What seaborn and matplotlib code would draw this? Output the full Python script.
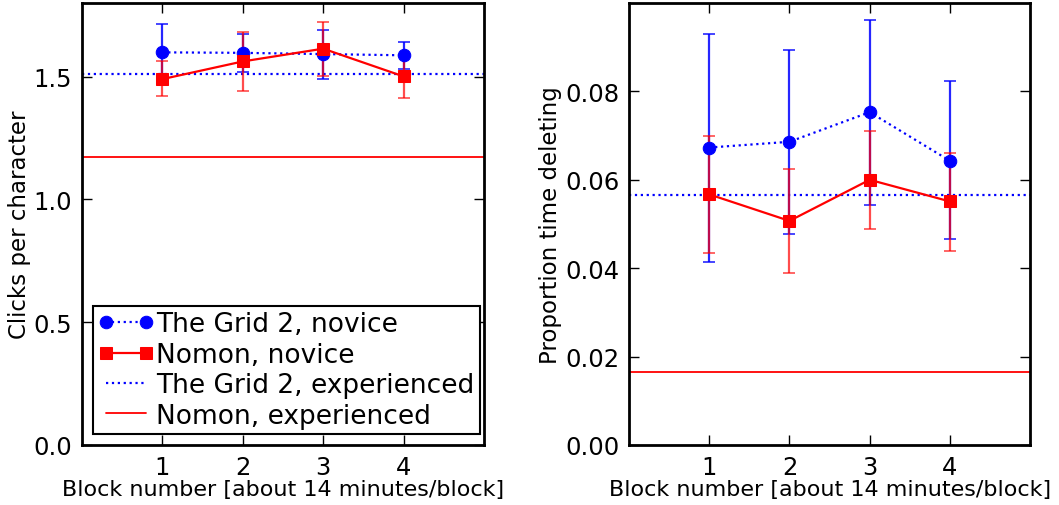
import matplotlib
matplotlib.use("Agg")
import matplotlib.pyplot as plt
import seaborn as sns
import pandas as pd

blocks = [1, 2, 3, 4]

# Left panel: clicks per character
grid_clicks = [1.599, 1.597, 1.592, 1.587]
grid_clicks_lo = [1.483, 1.521, 1.490, 1.532]
grid_clicks_hi = [1.715, 1.672, 1.692, 1.641]
nomon_clicks = [1.490, 1.562, 1.614, 1.501]
nomon_clicks_lo = [1.423, 1.440, 1.501, 1.413]
nomon_clicks_hi = [1.562, 1.682, 1.724, 1.589]
grid_exp_clicks = 1.512
nomon_exp_clicks = 1.174

# Right panel: proportion of time deleting
grid_del = [0.0673, 0.0686, 0.0753, 0.0643]
grid_del_lo = [0.0415, 0.0478, 0.0544, 0.0466]
grid_del_hi = [0.0930, 0.0893, 0.0961, 0.0823]
nomon_del = [0.0567, 0.0507, 0.0600, 0.0551]
nomon_del_lo = [0.0435, 0.0390, 0.0489, 0.0438]
nomon_del_hi = [0.0700, 0.0624, 0.0710, 0.0661]
grid_exp_del = 0.0565
nomon_exp_del = 0.0165

labels = ["The Grid 2, novice", "Nomon, novice",
          "The Grid 2, experienced", "Nomon, experienced"]
left_yticks = [0.0, 0.5, 1.0, 1.5]
left_yticklabels = ["0.0", "0.5", "1.0", "1.5"]
right_yticks = [0.00, 0.02, 0.04, 0.06, 0.08]
right_yticklabels = ["0.00", "0.02", "0.04", "0.06", "0.08"]
xlabel = "Block number [about 14 minutes/block]"

sns.set_style("ticks")
plt.rcParams["font.family"] = ["DejaVu Sans"]
plt.rcParams["text.color"] = "black"
plt.rcParams["axes.labelcolor"] = "black"
plt.rcParams["xtick.color"] = "black"
plt.rcParams["ytick.color"] = "black"

BLUE = (0, 0, 1)
RED = (1, 0, 0)

fig = plt.figure(figsize=(10.59, 5.06), dpi=100)
ax1 = fig.add_axes([0.0774, 0.1186, 0.3796, 0.8735])
ax2 = fig.add_axes([0.594, 0.1186, 0.3787, 0.8735])


def panel(ax, g, glo, ghi, n, nlo, nhi, gexp, nexp, ylim, yticks, yticklabels, ylabel):
    dg = pd.DataFrame({"block": blocks, "v": g})
    dn = pd.DataFrame({"block": blocks, "v": n})
    ax.errorbar(blocks, g, yerr=[[a - b for a, b in zip(g, glo)], [b - a for a, b in zip(g, ghi)]],
                fmt="none", ecolor=BLUE, elinewidth=1.6, capsize=4.5, capthick=1.2, alpha=0.85, zorder=2)
    ax.errorbar(blocks, n, yerr=[[a - b for a, b in zip(n, nlo)], [b - a for a, b in zip(n, nhi)]],
                fmt="none", ecolor=RED, elinewidth=1.6, capsize=4.5, capthick=1.2, alpha=0.7, zorder=2)
    sns.lineplot(data=dg, x="block", y="v", ax=ax, color=BLUE, linestyle=":", linewidth=1.6,
                 marker="o", markersize=9, markeredgecolor=BLUE, label=labels[0], zorder=3)
    sns.lineplot(data=dn, x="block", y="v", ax=ax, color=RED, linestyle="-", linewidth=1.6,
                 marker="s", markersize=9, markeredgecolor=RED, label=labels[1], zorder=3)
    ax.axhline(gexp, color=BLUE, linestyle=":", linewidth=1.6, label=labels[2], zorder=1)
    ax.axhline(nexp, color=RED, linestyle="-", linewidth=1.3, label=labels[3], zorder=1)
    ax.set_xlim(0, 5)
    ax.set_ylim(*ylim)
    ax.set_xticks(blocks)
    ax.set_xticklabels([str(b) for b in blocks])
    ax.set_yticks(yticks)
    ax.set_yticklabels(yticklabels)
    ax.tick_params(direction="in", top=True, right=True, length=7, width=1,
                   labelsize=17.5, pad=7, colors="black")
    for s in ax.spines.values():
        s.set_linewidth(2)
        s.set_color("black")
    ax.set_xlabel(xlabel, fontsize=16, labelpad=0)
    ax.set_ylabel(ylabel, fontsize=16.5, labelpad=2)


panel(ax1, grid_clicks, grid_clicks_lo, grid_clicks_hi, nomon_clicks, nomon_clicks_lo,
      nomon_clicks_hi, grid_exp_clicks, nomon_exp_clicks, (0, 1.8),
      left_yticks, left_yticklabels, "Clicks per character")
panel(ax2, grid_del, grid_del_lo, grid_del_hi, nomon_del, nomon_del_lo, nomon_del_hi,
      grid_exp_del, nomon_exp_del, (0, 0.1), right_yticks, right_yticklabels,
      "Proportion time deleting")

ax2.get_legend().remove()
h, l = ax1.get_legend_handles_labels()
ax1.get_legend().remove()
leg = ax1.legend(h, l, loc="lower left", bbox_to_anchor=(93 / 1059, (506 - 435) / 506),
                 bbox_transform=fig.transFigure, fontsize=19, frameon=True, fancybox=False,
                 handlelength=2.1, handletextpad=0.1, borderpad=0.2, labelspacing=0.17,
                 borderaxespad=0, numpoints=2)
leg.get_frame().set_edgecolor("black")
leg.get_frame().set_linewidth(1.5)
leg.get_frame().set_alpha(1)

fig.savefig("out.png", dpi=100)
